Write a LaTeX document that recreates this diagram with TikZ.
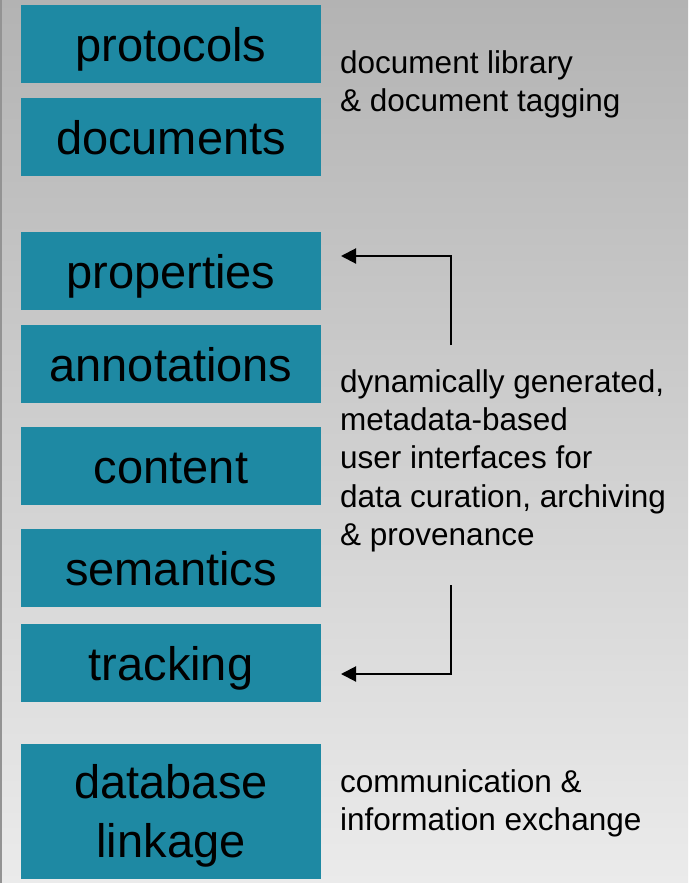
\documentclass[tikz,border=0pt]{standalone}
\usepackage{fontspec}
\setmainfont{Liberation Sans}
\usetikzlibrary{calc, arrows.meta}

\definecolor{tealbox}{RGB}{30,137,163}
\definecolor{bgtop}{RGB}{179,179,179}
\definecolor{bgbottom}{RGB}{235,235,235}

\tikzset{
    labelbox/.style={fill=tealbox, inner sep=0pt, minimum width=300pt, minimum height=78pt,
        font=\fontsize{47}{59}\selectfont},
    onebox/.style={labelbox, text height=35pt, text depth=0pt},
    sidetext/.style={anchor=north west, inner sep=0pt, align=left,
        font=\fontsize{31.5}{38.4}\selectfont},
    backarrow/.style={line width=2pt, -{Triangle[length=15pt,width=15pt]}}
}

\begin{document}
\begin{tikzpicture}[x=1pt, y=-1pt]
                \useasboundingbox (0,0) rectangle (688,883);
                \shade[top color=bgtop, bottom color=bgbottom] (0,0) rectangle (688,883);
                \draw[line width=2pt, gray!85] (1,0)--(1,883);
                % left column
                \foreach \nm/\yc in {protocols/44, documents/137, properties/270.5, annotations/364,
                                     content/466, semantics/568, tracking/662.5}{
                    \node[onebox] (\nm) at (171,\yc) {\nm};
                }
                \node[labelbox, minimum height=135pt, align=center, text height=93pt, text depth=1.4pt]
                    (database) at (171,811.5) {database\\linkage};
                % right column
                \node[sidetext] (library) at (340,50.5) {document library\\\& document tagging};
                \node[sidetext] (interfaces) at (340,369)
                    {dynamically generated,\\metadata-based\\user interfaces for\\data curation, archiving\\\& provenance};
                \node[sidetext] (exchange) at (340,769) {communication \&\\information exchange};
                % arrows
                \coordinate (upstart) at (451,345);
                \coordinate (uptip) at (341,256);
                \coordinate (downstart) at (451,585);
                \coordinate (downtip) at (341,674);
                \draw[backarrow] (upstart) |- (uptip);
                \draw[backarrow] (downstart) |- (downtip);
            \end{tikzpicture}
\end{document}
